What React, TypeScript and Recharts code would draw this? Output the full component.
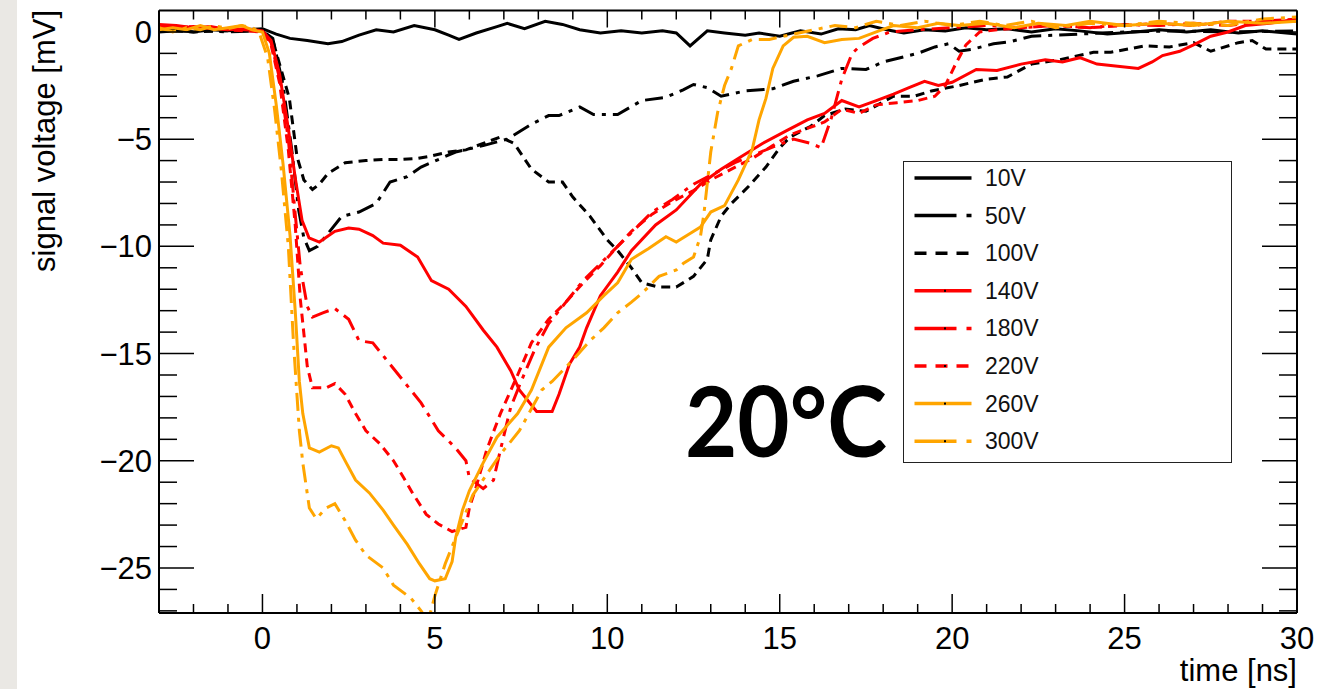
import React from 'react';
import { LineChart, Line, XAxis, YAxis, Legend } from 'recharts';

type Pt = [number, number];

// time [ns], signal [mV]
const trace10V: Pt[] = [
  [-3, 0.05], [-2.5, 0.1], [-2, 0.0], [-1.5, 0.1], [-1, 0.05], [-0.5, 0.1], [0, 0.15], [0.4, -0.1],
  [0.8, -0.3], [1.3, -0.4], [1.9, -0.55], [2.3, -0.45], [2.8, -0.15], [3.3, 0.1], [3.8, 0.0], [4.4, 0.3],
  [5.0, 0.1], [5.4, -0.15], [5.7, -0.35], [6.2, -0.05], [6.8, 0.25], [7.1, 0.4], [7.6, 0.15], [8.2, 0.5],
  [8.7, 0.35], [9.2, 0.1], [9.8, -0.05], [10.4, 0.05], [11.0, -0.05], [11.6, 0.05], [12.0, -0.05], [12.4, -0.65],
  [12.9, 0.05], [13.4, -0.05], [14.0, -0.15], [14.4, -0.05], [15.0, -0.2], [15.6, 0.05], [16.2, -0.1], [16.7, 0.15],
  [17.2, 0.1], [17.6, 0.3], [18.1, 0.1], [18.6, -0.05], [19.2, 0.1], [19.8, 0.05], [20.4, 0.2], [21.0, 0.1],
  [21.6, 0.15], [22.3, 0.0], [23.0, 0.15], [23.7, 0.05], [24.5, -0.1], [25.3, 0.0], [26.0, 0.1], [26.8, 0.0],
  [27.5, 0.1], [28.3, -0.05], [29.0, 0.05], [30, -0.1],
];

const trace50V: Pt[] = [
  [-3, 0], [-2, 0.1], [-1, 0.0], [0, 0.05], [0.3, -0.3], [0.6, -2.5], [0.85, -5.5], [1.05, -8.3],
  [1.2, -9.6], [1.36, -10.2], [1.6, -10.0], [1.85, -9.5], [2.3, -8.6], [2.8, -8.4], [3.3, -8.0], [3.7, -7.0],
  [4.2, -6.75], [4.6, -6.3], [5.1, -5.95], [5.6, -5.6], [6.4, -5.3], [7.1, -5.0], [7.8, -4.3], [8.3, -3.9],
  [8.6, -3.9], [9.2, -3.5], [9.6, -3.85], [10.3, -3.85], [11.0, -3.2], [11.7, -3.05], [12.2, -2.7], [12.5, -2.45],
  [12.9, -2.6], [13.3, -3.0], [14.0, -2.75], [14.8, -2.65], [15.4, -2.3], [16.1, -2.05], [16.8, -1.7], [17.5, -1.75],
  [18.0, -1.4], [19.0, -1.0], [19.5, -0.7], [19.9, -0.55], [20.2, -0.9], [20.6, -0.8], [21.2, -0.55], [21.7, -0.45],
  [22.3, -0.2], [23.0, -0.15], [23.7, -0.1], [25, 0.0], [26.5, 0.05], [28, 0.0], [30, 0.05],
];

const trace100V: Pt[] = [
  [-3, 0.1], [-2, 0], [-1, 0.05], [0, 0.05], [0.3, -0.4], [0.55, -1.8], [0.78, -3.1], [1.0, -5.8],
  [1.2, -6.9], [1.45, -7.35], [1.65, -7.1], [1.9, -6.6], [2.4, -6.1], [3.0, -6.0], [3.5, -5.95], [4.0, -5.95],
  [4.5, -5.9], [4.85, -5.8], [5.4, -5.6], [5.9, -5.5], [6.4, -5.2], [6.9, -4.9], [7.3, -5.2], [7.8, -6.4],
  [8.3, -7.0], [8.7, -7.0], [9.0, -7.7], [9.5, -8.6], [10.0, -9.7], [10.3, -10.2], [10.7, -11.0], [11.0, -11.7],
  [11.5, -11.9], [12.0, -11.9], [12.5, -11.4], [12.9, -10.6], [13.0, -9.7], [13.3, -8.6], [13.6, -8.0], [14.1, -7.2],
  [14.6, -6.3], [15.0, -5.4], [15.3, -4.9], [15.9, -4.4], [16.3, -3.9], [16.9, -3.6], [17.5, -3.7], [18.3, -3.0],
  [18.9, -3.0], [19.4, -2.75], [20.2, -2.5], [21.0, -2.2], [21.6, -2.1], [22.3, -1.5], [23.1, -1.3], [24.1, -0.95],
  [24.6, -0.95], [25.6, -0.65], [26.3, -0.7], [27.0, -0.5], [27.5, -0.9], [28.3, -0.5], [28.7, -0.4], [29.1, -0.8],
  [30, -0.8],
];

const trace140V: Pt[] = [
  [-3, 0.35], [-2.5, 0.3], [-2, 0.2], [-1.5, 0.25], [-1, 0.1], [-0.5, 0.15], [0, 0.05], [0.25, -0.4],
  [0.5, -2.0], [0.75, -4.5], [0.95, -6.8], [1.15, -8.8], [1.35, -9.6], [1.65, -9.8], [2.1, -9.3], [2.5, -9.15],
  [2.8, -9.2], [3.2, -9.5], [3.5, -9.85], [4.0, -9.95], [4.5, -10.5], [4.9, -11.6], [5.4, -12.0], [5.9, -12.8],
  [6.4, -13.9], [6.8, -14.7], [7.2, -15.8], [7.45, -16.7], [7.95, -17.7], [8.4, -17.7], [8.6, -16.9], [8.9, -15.5],
  [9.2, -14.7], [9.4, -13.8], [9.8, -12.3], [10.3, -11.2], [10.7, -10.2], [11.4, -9.0], [12.0, -8.3], [12.7, -7.1],
  [13.3, -6.4], [13.9, -5.8], [14.5, -5.2], [15.2, -4.6], [15.8, -4.1], [16.3, -3.8], [16.8, -3.2], [17.3, -3.5],
  [17.8, -3.2], [18.3, -2.9], [18.75, -2.6], [19.2, -2.3], [19.6, -2.5], [20.0, -2.35], [20.7, -1.75], [21.3, -1.8],
  [22.0, -1.5], [22.7, -1.3], [23.2, -1.4], [23.7, -1.2], [24.2, -1.5], [24.8, -1.6], [25.4, -1.7], [25.8, -1.4],
  [26.1, -1.1], [26.6, -0.9], [27.0, -0.6], [27.5, -0.2], [28.0, 0.0], [28.5, 0.3], [29.2, 0.4], [30, 0.6],
];

const trace180V: Pt[] = [
  [-3, 0.3], [-2, 0.2], [-1, 0.15], [0, 0.05], [0.25, -0.5], [0.5, -2.2], [0.75, -5.0], [0.95, -8.5],
  [1.1, -11.0], [1.3, -12.8], [1.45, -13.3], [1.75, -13.1], [2.1, -12.9], [2.5, -13.4], [2.8, -14.4], [3.2, -14.5],
  [3.7, -15.5], [4.1, -16.3], [4.6, -17.3], [5.1, -18.6], [5.6, -19.4], [5.9, -20.0], [6.0, -20.8], [6.4, -21.3],
  [6.7, -20.9], [6.9, -19.5], [7.2, -17.5], [7.5, -16.3], [7.9, -14.8], [8.3, -13.6], [8.8, -12.6], [9.3, -11.6],
  [9.8, -10.8], [10.3, -10.0], [10.8, -9.2], [11.3, -8.4], [11.9, -7.8], [12.5, -7.1], [13.1, -6.6], [13.7, -6.1],
  [14.3, -5.7], [14.9, -5.3], [15.4, -5.0], [15.9, -5.2], [16.2, -5.4], [16.5, -4.0], [16.8, -2.2], [17.1, -1.0],
  [17.3, -0.7], [17.7, -0.3], [18.2, 0.0], [19, 0.1], [20, 0.2], [21, 0.3], [22, 0.2], [23, 0.3],
  [24, 0.2], [25, 0.35], [26, 0.3], [27, 0.4], [28, 0.3], [29, 0.5], [30, 0.5],
];

const trace220V: Pt[] = [
  [-3, 0.2], [-2, 0.25], [-1, 0.1], [0, 0.0], [0.25, -0.6], [0.5, -2.4], [0.75, -5.5], [0.95, -9.0],
  [1.1, -12.5], [1.3, -15.6], [1.45, -16.6], [1.85, -16.6], [2.1, -16.4], [2.4, -16.9], [2.7, -17.8], [3.0, -18.6],
  [3.4, -19.2], [3.8, -20.0], [4.1, -20.8], [4.35, -21.5], [4.75, -22.5], [5.1, -22.95], [5.5, -23.3], [5.9, -23.1],
  [6.0, -22.2], [6.2, -21.2], [6.5, -19.5], [6.9, -17.8], [7.4, -16.0], [7.8, -14.5], [8.3, -13.4], [8.8, -12.6],
  [9.3, -11.7], [9.8, -10.9], [10.3, -10.0], [10.7, -9.3], [11.3, -8.5], [11.9, -7.9], [12.5, -7.4], [13.0, -6.9],
  [13.6, -6.4], [14.2, -5.9], [14.8, -5.3], [15.3, -4.8], [15.8, -4.5], [16.3, -4.2], [16.8, -3.6], [17.3, -3.8],
  [17.8, -3.4], [18.4, -3.3], [19.0, -3.2], [19.5, -3.0], [19.8, -2.5], [20.1, -1.5], [20.4, -0.6], [20.8, 0.0],
  [21.3, 0.1], [22, 0.2], [23, 0.3], [24, 0.2], [25, 0.3], [26, 0.4], [27, 0.3], [28, 0.5],
  [29, 0.5], [30, 0.6],
];

const trace260V: Pt[] = [
  [-3, 0.1], [-2.6, 0.2], [-2.2, 0.1], [-1.8, 0.3], [-1.4, 0.1], [-1.0, 0.2], [-0.6, 0.3], [-0.3, 0.1],
  [0.0, 0.0], [0.2, -1.0], [0.4, -3.4], [0.6, -6.2], [0.8, -9.5], [0.95, -13.0], [1.07, -16.3], [1.17, -17.8],
  [1.36, -19.4], [1.65, -19.6], [2.0, -19.3], [2.2, -19.4], [2.43, -20.1], [2.7, -20.9], [3.1, -21.5], [3.5, -22.3],
  [3.8, -23.0], [4.2, -23.9], [4.55, -24.8], [4.85, -25.5], [5.0, -25.6], [5.3, -25.5], [5.5, -24.7], [5.6, -23.6],
  [5.8, -22.3], [6.0, -21.4], [6.4, -20.1], [6.8, -18.9], [7.4, -17.8], [7.8, -16.7], [8.3, -14.7], [8.8, -13.8],
  [9.4, -13.1], [9.9, -12.3], [10.3, -11.7], [10.7, -10.6], [11.2, -10.1], [11.7, -9.55], [12.0, -9.8], [12.4, -9.4],
  [12.7, -9.1], [13.0, -8.4], [13.4, -8.1], [13.8, -6.9], [14.2, -5.5], [14.4, -4.1], [14.6, -3.1], [14.8, -1.7],
  [15.1, -0.65], [15.4, -0.25], [15.8, -0.2], [16.3, -0.5], [16.8, -0.35], [17.3, -0.3], [17.8, 0.0], [18.3, 0.3],
  [19, 0.2], [19.6, 0.4], [20.2, 0.3], [21, 0.4], [21.8, 0.2], [22.5, 0.4], [23.3, 0.3], [24, 0.5],
  [25, 0.3], [26, 0.4], [27, 0.3], [28, 0.5], [29, 0.4], [30, 0.5],
];

const trace300V: Pt[] = [
  [-3, 0.2], [-2.6, 0.0], [-2.2, 0.2], [-1.8, 0.1], [-1.4, 0.3], [-1.0, 0.15], [-0.6, 0.3], [-0.3, 0.2],
  [-0.1, 0.0], [0.15, -1.2], [0.35, -3.6], [0.55, -6.5], [0.75, -10.0], [0.9, -14.5], [1.07, -18.6], [1.17, -20.1],
  [1.36, -22.2], [1.56, -22.7], [1.85, -22.2], [2.1, -22.0], [2.4, -22.8], [2.7, -23.7], [3.0, -24.4], [3.5, -25.0],
  [3.8, -25.8], [4.3, -26.4], [4.6, -27.0], [4.8, -27.5], [5.0, -26.3], [5.3, -24.8], [5.7, -23.2], [6.1, -21.6],
  [6.6, -20.4], [6.9, -19.7], [7.45, -18.6], [8.1, -16.7], [8.4, -16.3], [9.0, -15.3], [9.5, -14.4], [9.9, -13.8],
  [10.3, -13.1], [10.7, -12.6], [11.0, -12.2], [11.5, -11.4], [12.0, -11.1], [12.2, -10.8], [12.5, -10.5], [12.7, -9.55],
  [12.8, -8.5], [13.0, -5.6], [13.2, -3.75], [13.4, -2.5], [13.6, -1.7], [13.8, -0.65], [14.2, -0.35], [14.7, -0.35],
  [15.4, -0.1], [16, 0.1], [16.6, 0.3], [17.2, 0.2], [17.8, 0.5], [18.5, 0.3], [19.2, 0.5], [20, 0.3],
  [20.8, 0.5], [21.5, 0.3], [22.3, 0.5], [23, 0.2], [24, 0.4], [25, 0.3], [26, 0.5], [27, 0.4],
  [28, 0.3], [29, 0.6], [30, 0.7],
];

const seriesNames = ['10V', '50V', '100V', '140V', '180V', '220V', '260V', '300V'];
const timeTicks = [-3, -2, -1, 0, 1, 2, 3, 4, 5, 6, 7, 8, 9, 10, 11, 12, 13, 14, 15, 16, 17, 18, 19, 20, 21, 22, 23, 24, 25, 26, 27, 28, 29, 30];
const timeLabels = [0, 5, 10, 15, 20, 25, 30];
const voltTicks = [-27, -26, -25, -24, -23, -22, -21, -20, -19, -18, -17, -16, -15, -14, -13, -12, -11, -10, -9, -8, -7, -6, -5, -4, -3, -2, -1, 0];
const voltLabels = [0, -5, -10, -15, -20, -25];

const FONT = '"Liberation Sans", Arial, Helvetica, sans-serif';
const BLACK = '#000000';
const RED = '#ff0000';
const ORANGE = '#ffa500';
const DASH_DOT = '18 7 4 7';
const DASHED = '9 6';

const series = [
  { name: seriesNames[0], data: trace10V, color: BLACK, dash: undefined, legendDash: undefined },
  { name: seriesNames[1], data: trace50V, color: BLACK, dash: DASH_DOT, legendDash: '42 10 5 10' },
  { name: seriesNames[2], data: trace100V, color: BLACK, dash: DASHED, legendDash: '12 9' },
  { name: seriesNames[3], data: trace140V, color: RED, dash: undefined, legendDash: undefined },
  { name: seriesNames[4], data: trace180V, color: RED, dash: DASH_DOT, legendDash: '42 10 5 10' },
  { name: seriesNames[5], data: trace220V, color: RED, dash: DASHED, legendDash: '12 9' },
  { name: seriesNames[6], data: trace260V, color: ORANGE, dash: undefined, legendDash: undefined },
  { name: seriesNames[7], data: trace300V, color: ORANGE, dash: DASH_DOT, legendDash: '42 10 5 10' },
].map((s) => ({ ...s, points: s.data.map(([t, v]) => ({ t, v })) }));

const minus = (v: number) => String(v).replace('-', '\u2212');

const BottomTick = ({ x, y, payload }: any) => {
  const major = timeLabels.includes(payload.value);
  return (
    <g>
      <line x1={x} x2={x} y1={y} y2={y - (major ? 19 : 9)} stroke="#000" strokeWidth={1.5} />
      {major && (
        <text x={x} y={y + 36} textAnchor="middle" fontSize={31} fontFamily={FONT} fill="#000">
          {minus(payload.value)}
        </text>
      )}
    </g>
  );
};

const TopTick = ({ x, y, payload }: any) => {
  const major = timeLabels.includes(payload.value);
  return <line x1={x} x2={x} y1={y} y2={y + (major ? 17 : 9)} stroke="#000" strokeWidth={1.5} />;
};

const LeftTick = ({ x, y, payload }: any) => {
  const major = voltLabels.includes(payload.value);
  return (
    <g>
      <line x1={x} x2={x + (major ? 35 : 18)} y1={y} y2={y} stroke="#000" strokeWidth={1.5} />
      {major && (
        <text x={x - 7} y={y + 11} textAnchor="end" fontSize={31} fontFamily={FONT} fill="#000">
          {minus(payload.value)}
        </text>
      )}
    </g>
  );
};

const RightTick = ({ x, y, payload }: any) => {
  const major = voltLabels.includes(payload.value);
  return <line x1={x} x2={x - (major ? 35 : 18)} y1={y} y2={y} stroke="#000" strokeWidth={1.5} />;
};

const renderLegend = () => (
  <div
    style={{
      width: 329,
      height: 302,
      border: '1.5px solid #222',
      background: '#fff',
      boxSizing: 'border-box',
    }}
  >
    <svg width={326} height={299} style={{ display: 'block' }}>
      {series.map((s, i) => {
        const cy = 16 + 37.6 * i;
        return (
          <g key={s.name}>
            <line x1={10.5} x2={67.5} y1={cy} y2={cy} stroke={s.color} strokeWidth={3.5} strokeDasharray={s.legendDash} />
            {s.color !== BLACK && <rect x={40} y={cy - 1} width={2} height={2} fill="#000" />}
            <text x={81} y={cy + 8} fontSize={23} fontFamily={FONT} fill="#111">
              {s.name}
            </text>
          </g>
        );
      })}
    </svg>
  </div>
);

const axisLine = { stroke: '#000', strokeWidth: 2 };

export default function App() {
  return (
    <div style={{ position: 'absolute', left: 0, top: 0, width: 1317, height: 689, background: '#fff', overflow: 'hidden' }}>
      <div style={{ position: 'absolute', left: 0, top: 0, width: 17, height: 689, background: '#eae8e4' }} />
      <LineChart width={1317} height={689} margin={{ top: 9.5, right: 19, bottom: 75, left: 158 }}>
        <XAxis
          xAxisId={0}
          dataKey="t"
          type="number"
          domain={[-3, 30]}
          allowDataOverflow
          ticks={timeTicks}
          interval={0}
          height={1}
          tickSize={0}
          tickMargin={0}
          tickLine={false}
          axisLine={axisLine}
          tick={<BottomTick />}
        />
        <XAxis
          xAxisId="top"
          orientation="top"
          dataKey="t"
          type="number"
          domain={[-3, 30]}
          allowDataOverflow
          ticks={timeTicks}
          interval={0}
          height={1}
          tickSize={0}
          tickMargin={0}
          tickLine={false}
          axisLine={axisLine}
          tick={<TopTick />}
        />
        <YAxis
          yAxisId={0}
          type="number"
          domain={[-27.1, 1.0]}
          allowDataOverflow
          ticks={voltTicks}
          interval={0}
          width={1}
          tickSize={0}
          tickMargin={0}
          tickLine={false}
          axisLine={axisLine}
          tick={<LeftTick />}
        />
        <YAxis
          yAxisId="right"
          orientation="right"
          type="number"
          domain={[-27.1, 1.0]}
          allowDataOverflow
          ticks={voltTicks}
          interval={0}
          width={1}
          tickSize={0}
          tickMargin={0}
          tickLine={false}
          axisLine={axisLine}
          tick={<RightTick />}
        />
        {series.map((s) => (
          <Line
            key={s.name}
            name={s.name}
            data={s.points}
            dataKey="v"
            type="linear"
            stroke={s.color}
            strokeWidth={3}
            strokeDasharray={s.dash}
            dot={false}
            activeDot={false}
            isAnimationActive={false}
          />
        ))}
        <Legend
          layout="vertical"
          align="center"
          verticalAlign="middle"
          width={329}
          height={302}
          content={renderLegend}
          wrapperStyle={{ left: 903, top: 161, width: 329, height: 302 }}
        />
      </LineChart>
      <svg
        width={1317}
        height={689}
        style={{ position: 'absolute', left: 0, top: 0, pointerEvents: 'none' }}
      >
        <text transform="translate(55,10) rotate(-90)" textAnchor="end" fontSize={31} fontFamily={FONT} fill="#000">
          signal voltage [mV]
        </text>
        <text x={1297} y={681} textAnchor="end" fontSize={31} fontFamily={FONT} fill="#000">
          time [ns]
        </text>
        <text x={685} y={457} fontSize={97} fontWeight={700} fontFamily="Lato, 'Open Sans', sans-serif" fill="#000" textLength={202} lengthAdjust="spacingAndGlyphs">
          20°C
        </text>
      </svg>
    </div>
  );
}
